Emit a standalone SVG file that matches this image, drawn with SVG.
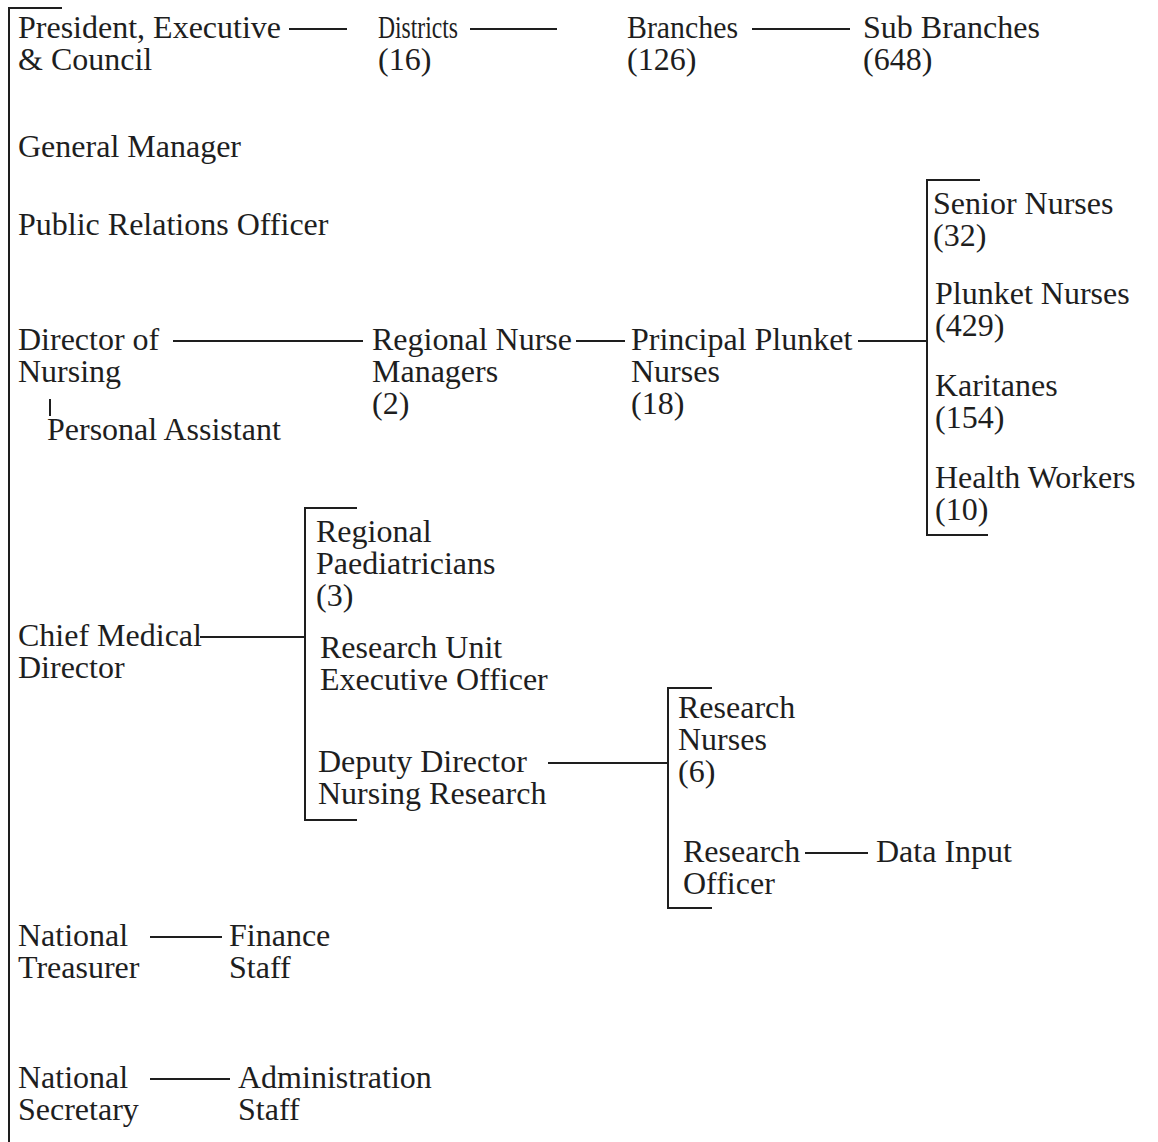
<svg xmlns="http://www.w3.org/2000/svg" width="1158" height="1142" viewBox="0 0 1158 1142">
<style>
text{font-family:"Liberation Serif","Times New Roman",serif;font-size:32px;fill:#1e1e1e}
.c line,.c polyline{stroke:#1e1e1e;stroke-width:2;fill:none}
</style>
<rect width="1158" height="1142" fill="#fff"/>
<g class="c" id="connectors">
<polyline points="62,8 9,8 9,1142"/>
<line x1="289" y1="29" x2="347" y2="29"/>
<line x1="470" y1="29" x2="557" y2="29"/>
<line x1="752" y1="29" x2="850" y2="29"/>
<line x1="173" y1="341" x2="363" y2="341"/>
<line x1="50" y1="399" x2="50" y2="416"/>
<line x1="576" y1="341" x2="625" y2="341"/>
<line x1="858" y1="341" x2="927" y2="341"/>
<polyline points="980,180 927,180 927,535 988,535"/>
<line x1="200" y1="637" x2="305" y2="637"/>
<polyline points="357,508 305,508 305,820 357,820"/>
<line x1="548" y1="763" x2="668" y2="763"/>
<polyline points="712,688 668,688 668,908 712,908"/>
<line x1="805" y1="853" x2="868" y2="853"/>
<line x1="150" y1="937" x2="222" y2="937"/>
<line x1="150" y1="1079" x2="230" y2="1079"/>
</g>
<g id="president"><text x="18" y="38">President, Executive</text><text x="18" y="70">&amp; Council</text></g>
<g id="districts"><text x="378" y="38" textLength="80" lengthAdjust="spacingAndGlyphs">Districts</text><text x="378" y="70">(16)</text></g>
<g id="branches"><text x="627" y="38" textLength="111" lengthAdjust="spacingAndGlyphs">Branches</text><text x="627" y="70">(126)</text></g>
<g id="subbranches"><text x="863" y="38">Sub Branches</text><text x="863" y="70">(648)</text></g>
<g id="gm"><text x="18" y="157">General Manager</text></g>
<g id="pro"><text x="18" y="235">Public Relations Officer</text></g>
<g id="don"><text x="18" y="350">Director of</text><text x="18" y="382">Nursing</text></g>
<g id="pa"><text x="47" y="440">Personal Assistant</text></g>
<g id="rnm"><text x="372" y="350">Regional Nurse</text><text x="372" y="382">Managers</text><text x="372" y="414">(2)</text></g>
<g id="ppn"><text x="631" y="350">Principal Plunket</text><text x="631" y="382">Nurses</text><text x="631" y="414">(18)</text></g>
<g id="sn"><text x="933" y="214">Senior Nurses</text><text x="933" y="246">(32)</text></g>
<g id="pn"><text x="935" y="304">Plunket Nurses</text><text x="935" y="336">(429)</text></g>
<g id="kar"><text x="935" y="396">Karitanes</text><text x="935" y="428">(154)</text></g>
<g id="hw"><text x="935" y="488">Health Workers</text><text x="935" y="520">(10)</text></g>
<g id="cmd"><text x="18" y="646">Chief Medical</text><text x="18" y="678">Director</text></g>
<g id="rp"><text x="316" y="542">Regional</text><text x="316" y="574">Paediatricians</text><text x="316" y="606">(3)</text></g>
<g id="rueo"><text x="320" y="658">Research Unit</text><text x="320" y="690">Executive Officer</text></g>
<g id="ddnr"><text x="318" y="772">Deputy Director</text><text x="318" y="804">Nursing Research</text></g>
<g id="rn"><text x="678" y="718">Research</text><text x="678" y="750">Nurses</text><text x="678" y="782">(6)</text></g>
<g id="ro"><text x="683" y="862">Research</text><text x="683" y="894">Officer</text></g>
<g id="di"><text x="876" y="862">Data Input</text></g>
<g id="nt"><text x="18" y="946">National</text><text x="18" y="978">Treasurer</text></g>
<g id="fs"><text x="229" y="946">Finance</text><text x="229" y="978">Staff</text></g>
<g id="ns"><text x="18" y="1088">National</text><text x="18" y="1120">Secretary</text></g>
<g id="as"><text x="238" y="1088">Administration</text><text x="238" y="1120">Staff</text></g>
</svg>
